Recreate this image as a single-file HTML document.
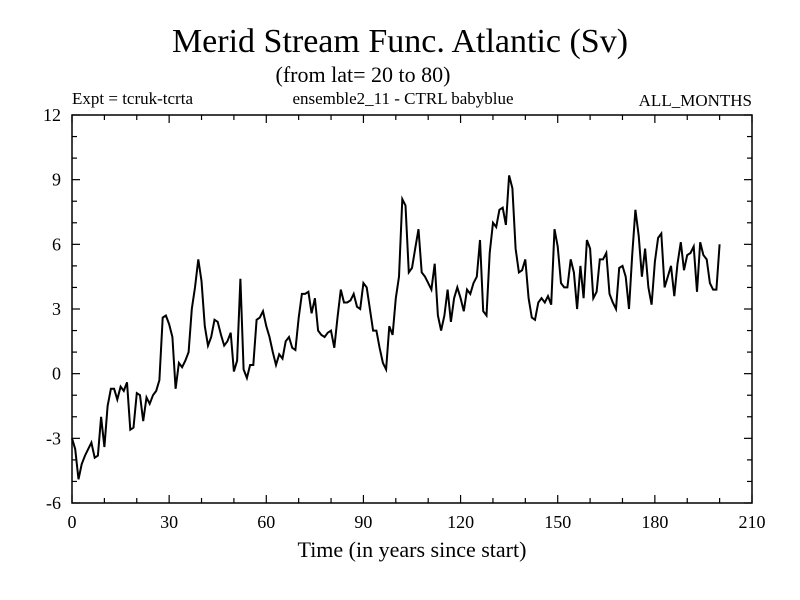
<!DOCTYPE html>
<html><head><meta charset="utf-8"><style>
body{margin:0;background:#fff;}
svg{display:block;font-family:"Liberation Serif",serif;}
</style></head><body>
<svg id="c" width="800" height="600">
<text x="400" y="52" font-size="34" text-anchor="middle">Merid Stream Func. Atlantic (Sv)</text>
<text x="363" y="82" font-size="22" text-anchor="middle">(from lat= 20 to 80)</text>
<text x="72" y="104" font-size="17">Expt = tcruk-tcrta</text>
<text x="403" y="104" font-size="17" text-anchor="middle">ensemble2_11 - CTRL babyblue</text>
<text x="752" y="106" font-size="17" text-anchor="end">ALL_MONTHS</text>
<text x="412" y="557" font-size="22" text-anchor="middle">Time (in years since start)</text>
<g id="axes"></g>
<polyline id="line" fill="none" stroke="#000" stroke-width="2"/>
<rect x="72" y="115" width="680" height="388" fill="none" stroke="#000" stroke-width="1.5"/>
</svg>
<script>
const xTicks=[0,30,60,90,120,150,180,210];
const yTicks=[-6,-3,0,3,6,9,12];
const values=[-3.0,-3.5,-4.9,-4.2,-3.8,-3.5,-3.2,-3.9,-3.8,-2.0,-3.4,-1.5,-0.7,-0.7,-1.2,-0.6,-0.8,-0.4,-2.6,-2.5,
-0.9,-1.0,-2.2,-1.1,-1.4,-1.0,-0.8,-0.3,2.6,2.7,2.3,1.7,-0.7,0.5,0.3,0.6,1.0,3.0,4.0,5.3,
4.3,2.2,1.3,1.7,2.5,2.4,1.8,1.3,1.5,1.9,0.1,0.6,4.4,0.2,-0.2,0.4,0.4,2.5,2.6,2.9,
2.2,1.7,1.0,0.4,0.9,0.7,1.5,1.7,1.2,1.1,2.6,3.7,3.7,3.8,2.8,3.5,2.0,1.8,1.7,1.9,
2.0,1.2,2.6,3.9,3.3,3.3,3.4,3.7,3.1,3.0,4.2,4.0,3.0,2.0,2.0,1.2,0.5,0.2,2.2,1.8,
3.5,4.5,8.1,7.8,4.7,4.9,5.8,6.7,4.7,4.5,4.2,3.9,5.1,2.7,2.0,2.7,3.9,2.4,3.5,4.0,
3.5,2.9,3.9,3.7,4.2,4.5,6.2,2.9,2.7,5.6,7.0,6.8,7.6,7.7,6.9,9.2,8.6,5.8,4.7,4.8,
5.3,3.5,2.6,2.5,3.3,3.5,3.3,3.6,3.2,6.7,5.9,4.2,4.0,4.0,5.3,4.7,3.0,5.0,3.5,6.2,
5.8,3.5,3.8,5.3,5.3,5.6,3.7,3.3,3.0,4.9,5.0,4.5,3.0,5.5,7.6,6.4,4.5,5.8,4.0,3.2,
5.2,6.3,6.5,4.0,4.5,5.0,3.6,5.1,6.1,4.8,5.5,5.6,5.9,3.8,6.1,5.5,5.3,4.2,3.9,3.9,6.0];
const X0=72,X1=752,Y0=503,Y1=115;
const xs=v=>X0+(v-0)/(210-0)*(X1-X0);
const ys=v=>Y0-(v+6)/18*(Y0-Y1);
const ns="http://www.w3.org/2000/svg";
const g=document.getElementById('axes');
function ln(x1,y1,x2,y2,name){const l=document.createElementNS(ns,'line');
l.setAttribute('x1',x1);l.setAttribute('y1',y1);l.setAttribute('x2',x2);l.setAttribute('y2',y2);
l.setAttribute('stroke','#000');l.setAttribute('stroke-width','1.2');


g.appendChild(l);}
function tx(x,y,s,anchor,name){const t=document.createElementNS(ns,'text');
t.setAttribute('x',x);t.setAttribute('y',y);t.setAttribute('font-size','18');t.setAttribute('text-anchor',anchor);t.textContent=s;


g.appendChild(t);}
for(let v=0;v<=210;v+=10){const x=xs(v),L=(v%30===0)?8:5;
ln(x,Y0,x,Y0-L,'x-tick');ln(x,Y1,x,Y1+L,'x-tick-top');}
xTicks.forEach(v=>tx(xs(v),528,String(v),'middle','x-tick-label'));
for(let v=-6;v<=12;v++){const y=ys(v),L=(v%3===0)?8:5;
ln(X0,y,X0+L,y,'y-tick');ln(X1,y,X1-L,y,'y-tick-right');}
yTicks.forEach(v=>tx(61,ys(v)+6,String(v),'end','y-tick-label'));
document.getElementById('line').setAttribute('points',values.map((v,i)=>xs(i).toFixed(1)+','+ys(v).toFixed(1)).join(' '));
</script>
</body></html>
